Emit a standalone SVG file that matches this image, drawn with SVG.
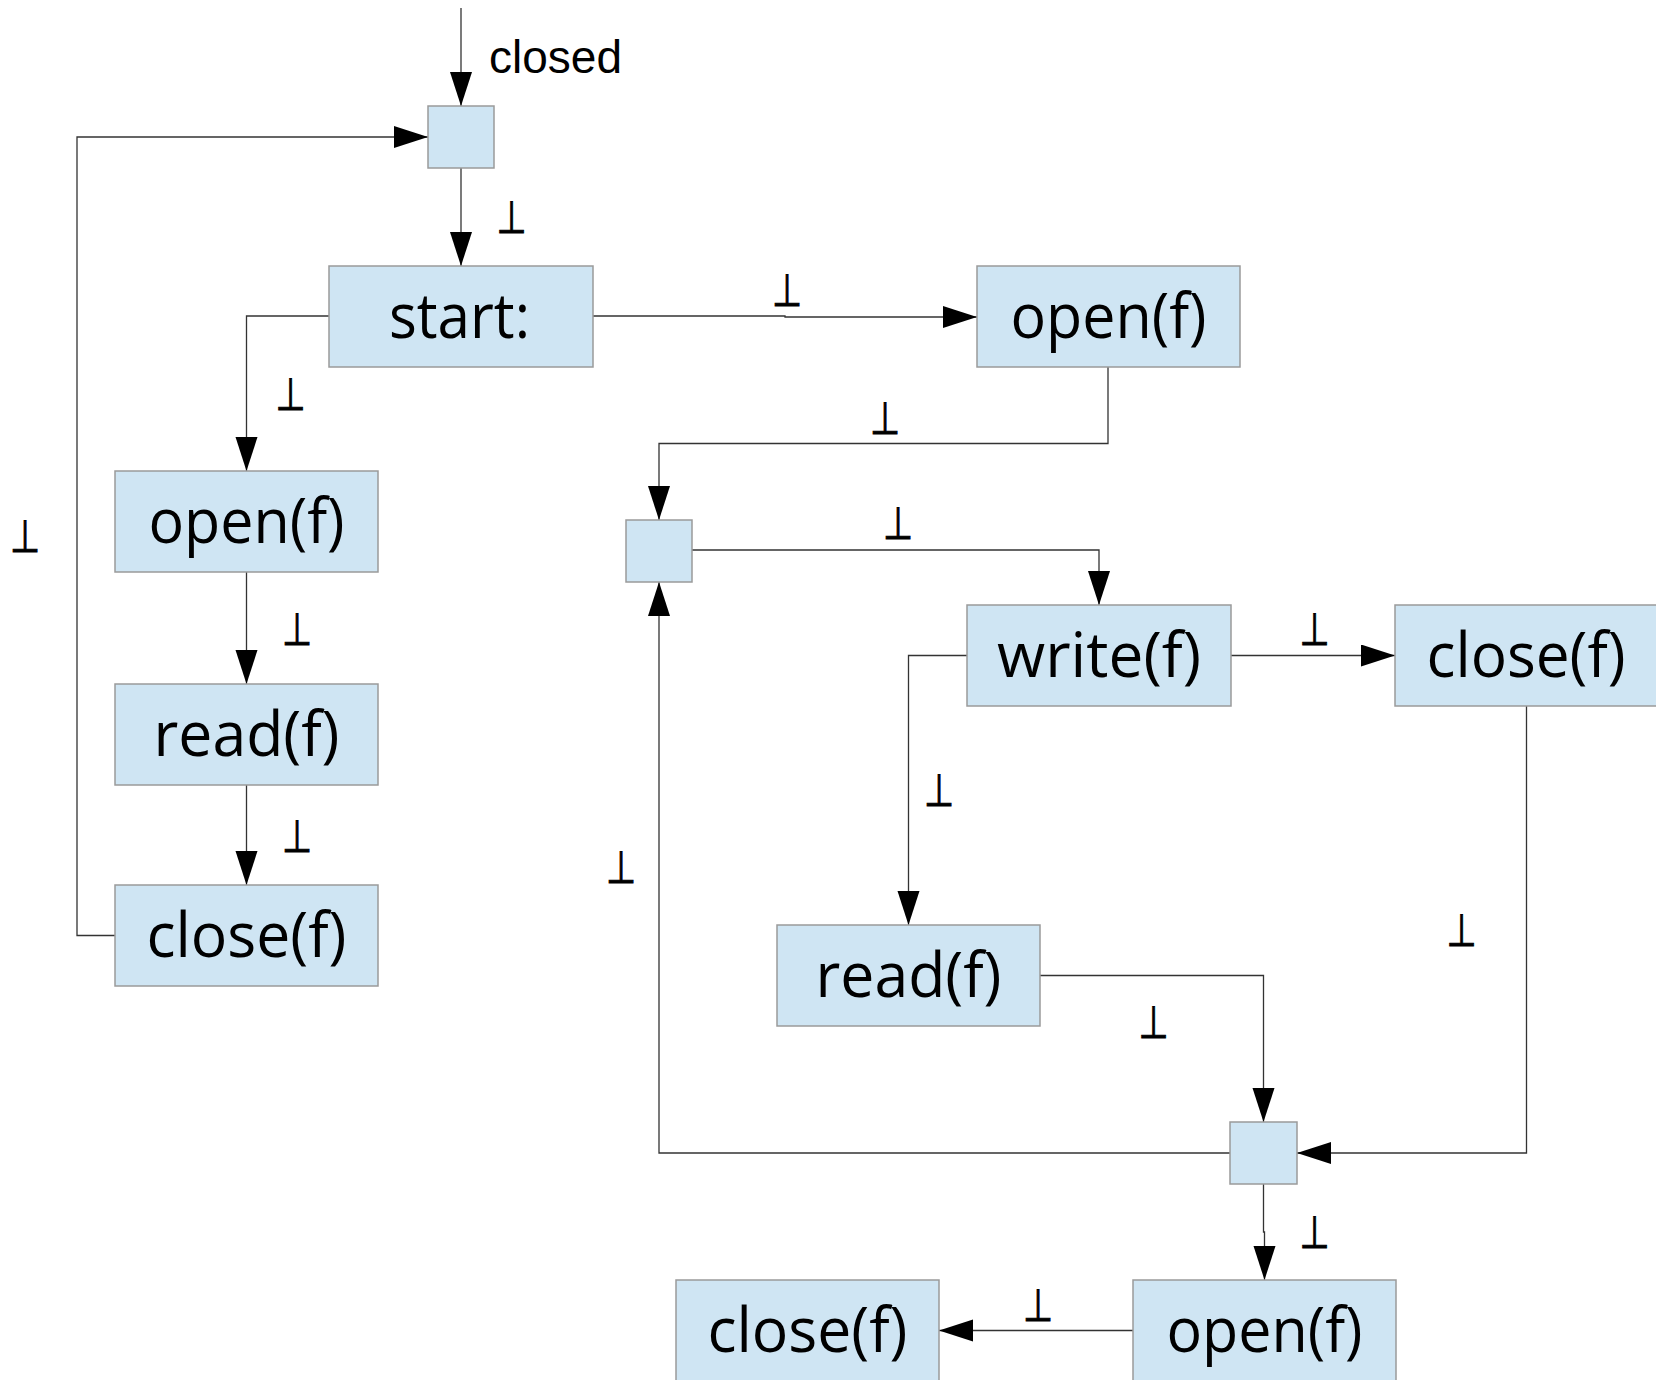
<svg xmlns="http://www.w3.org/2000/svg" width="1656" height="1380" viewBox="0 0 1656 1380">
<style>
.box{fill:#cfe5f3;stroke:#9a9a9a;stroke-width:1.5}
.lbl{font-family:"Open Sans","DejaVu Sans",sans-serif;font-size:62px;text-anchor:middle;fill:#000}
.bot{font-family:"DejaVu Sans",sans-serif;font-size:45px;text-anchor:middle;fill:#000;stroke:#000;stroke-width:0.9}
.cl{font-family:"Liberation Sans",Arial,sans-serif;font-size:46px;fill:#000}
#connectors path{fill:none;stroke:#333;stroke-width:1.3;marker-end:url(#arr)}
</style>
<defs>
<marker id="arr" markerUnits="userSpaceOnUse" markerWidth="36" markerHeight="24" refX="34" refY="11" orient="auto">
<path d="M0,0 L34,11 L0,22 z" fill="#000"/>
</marker>
</defs>
<rect width="1656" height="1380" fill="#fff"/>
<g id="connectors">
<path d="M461,8 V106"/>
<path d="M461,168 V266"/>
<path d="M593,316 H785 V317 H977"/>
<path d="M329,316 H246.5 V471"/>
<path d="M246.5,572 V684"/>
<path d="M246.5,785 V885"/>
<path d="M115,935.5 H77 V137 H428"/>
<path d="M1108,367 V443.5 H659 V520"/>
<path d="M692,550 H1099 V605"/>
<path d="M1231,655.5 H1395"/>
<path d="M967,655.5 H908.5 V925"/>
<path d="M1040,975.5 H1263.5 V1122"/>
<path d="M1526.5,706 V1153 H1297"/>
<path d="M1230,1153 H659 V582"/>
<path d="M1263.5,1184 V1232 H1264.5 V1280"/>
<path d="M1133,1330.5 H939"/>
</g>
<g id="edge-labels">
<text class="cl" x="489" y="73">closed</text>
<text class="bot" x="511.5" y="233" textLength="30" lengthAdjust="spacingAndGlyphs">⊥</text>
<text class="bot" x="787" y="306" textLength="30" lengthAdjust="spacingAndGlyphs">⊥</text>
<text class="bot" x="290.5" y="410" textLength="30" lengthAdjust="spacingAndGlyphs">⊥</text>
<text class="bot" x="297" y="644.5" textLength="30" lengthAdjust="spacingAndGlyphs">⊥</text>
<text class="bot" x="297" y="851.5" textLength="30" lengthAdjust="spacingAndGlyphs">⊥</text>
<text class="bot" x="25" y="551.5" textLength="30" lengthAdjust="spacingAndGlyphs">⊥</text>
<text class="bot" x="885" y="434" textLength="30" lengthAdjust="spacingAndGlyphs">⊥</text>
<text class="bot" x="898" y="539" textLength="30" lengthAdjust="spacingAndGlyphs">⊥</text>
<text class="bot" x="1314.5" y="644.5" textLength="30" lengthAdjust="spacingAndGlyphs">⊥</text>
<text class="bot" x="939" y="806" textLength="30" lengthAdjust="spacingAndGlyphs">⊥</text>
<text class="bot" x="621" y="883" textLength="30" lengthAdjust="spacingAndGlyphs">⊥</text>
<text class="bot" x="1153.5" y="1038" textLength="30" lengthAdjust="spacingAndGlyphs">⊥</text>
<text class="bot" x="1461.5" y="945.5" textLength="30" lengthAdjust="spacingAndGlyphs">⊥</text>
<text class="bot" x="1314.5" y="1248" textLength="30" lengthAdjust="spacingAndGlyphs">⊥</text>
<text class="bot" x="1038" y="1320.5" textLength="30" lengthAdjust="spacingAndGlyphs">⊥</text>
</g>
<g id="junction-top"><rect class="box" x="428" y="106" width="66" height="62"/></g>
<g id="start"><rect class="box" x="329" y="266" width="264" height="101"/><text class="lbl" x="459.5" y="337.5" textLength="141" lengthAdjust="spacingAndGlyphs">start:</text></g>
<g id="open-top"><rect class="box" x="977" y="266" width="263" height="101"/><text class="lbl" x="1108.5" y="337.5" textLength="196" lengthAdjust="spacingAndGlyphs">open(f)</text></g>
<g id="open-left"><rect class="box" x="115" y="471" width="263" height="101"/><text class="lbl" x="246.5" y="542.5" textLength="196" lengthAdjust="spacingAndGlyphs">open(f)</text></g>
<g id="read-left"><rect class="box" x="115" y="684" width="263" height="101"/><text class="lbl" x="246.5" y="755.5" textLength="186" lengthAdjust="spacingAndGlyphs">read(f)</text></g>
<g id="close-left"><rect class="box" x="115" y="885" width="263" height="101"/><text class="lbl" x="246.5" y="956.5" textLength="200" lengthAdjust="spacingAndGlyphs">close(f)</text></g>
<g id="junction-mid"><rect class="box" x="626" y="520" width="66" height="62"/></g>
<g id="write"><rect class="box" x="967" y="605" width="264" height="101"/><text class="lbl" x="1099" y="676.5" textLength="204" lengthAdjust="spacingAndGlyphs">write(f)</text></g>
<g id="close-right"><rect class="box" x="1395" y="605" width="263" height="101"/><text class="lbl" x="1526" y="676.5" textLength="199" lengthAdjust="spacingAndGlyphs">close(f)</text></g>
<g id="read-mid"><rect class="box" x="777" y="925" width="263" height="101"/><text class="lbl" x="908.5" y="996.5" textLength="186" lengthAdjust="spacingAndGlyphs">read(f)</text></g>
<g id="junction-bottom"><rect class="box" x="1230" y="1122" width="67" height="62"/></g>
<g id="open-bottom"><rect class="box" x="1133" y="1280" width="263" height="101"/><text class="lbl" x="1264.5" y="1351.5" textLength="196" lengthAdjust="spacingAndGlyphs">open(f)</text></g>
<g id="close-bottom"><rect class="box" x="676" y="1280" width="263" height="101"/><text class="lbl" x="807.5" y="1351.5" textLength="200" lengthAdjust="spacingAndGlyphs">close(f)</text></g>
</svg>
